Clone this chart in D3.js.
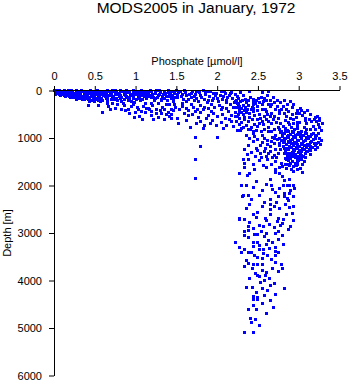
<!DOCTYPE html>
<html>
<head>
<meta charset="utf-8">
<script src="https://cdn.jsdelivr.net/npm/d3@7"></script>
<style>
  body { margin: 0; background: #fff; }
  svg { display: block; }
</style>
</head>
<body>
<svg id="chart" width="350" height="384"></svg>
<script>
// Phosphate [µmol/l] vs depth [m] samples, as [phosphate, depth]
const phosphateTicks = [0, 0.5, 1, 1.5, 2, 2.5, 3, 3.5];
const depthTicks = [0, 1000, 2000, 3000, 4000, 5000, 6000];

// Mixed layer, low phosphate
const surfaceLayer = [
  [0.01,10],[0.02,40],[0.03,70],[0.02,90],[0.05,20],[0.06,55],[0.07,85],[0.08,110],
  [0.10,15],[0.11,45],[0.12,75],[0.13,105],[0.14,125],[0.16,20],[0.17,50],[0.18,90],
  [0.19,120],[0.20,140],[0.22,10],[0.23,40],[0.24,70],[0.25,100],[0.26,135],[0.27,155],
  [0.29,25],[0.30,60],[0.31,90],[0.32,120],[0.33,150],[0.34,175],[0.36,15],[0.37,45],
  [0.38,80],[0.39,110],[0.40,140],[0.41,170],[0.42,195],[0.44,20],[0.45,55],[0.46,90],
  [0.47,125],[0.48,160],[0.49,200],[0.50,225],[0.52,30],[0.53,70],[0.54,105],[0.55,140],
  [0.56,180],[0.35,195],[0.28,180],[0.43,230],[0.04,5],[0.09,60],[0.15,80],[0.21,105],
  [0.33,30],[0.41,85],[0.51,190],[0.57,240],
  [0.03,25],[0.04,55],[0.06,35],[0.07,5],[0.09,30],[0.10,90],[0.12,40],[0.13,8],
  [0.14,65],[0.15,110],[0.17,30],[0.18,5],[0.19,70],[0.20,100],[0.21,45],[0.22,125],
  [0.23,20],[0.24,150],[0.25,60],[0.26,85],[0.27,5],[0.28,115],[0.29,140],[0.30,35],
  [0.31,165],[0.32,75],[0.33,100],[0.34,5],[0.35,130],[0.36,155],[0.37,65],[0.38,180],
  [0.39,30],[0.40,95],[0.41,120],[0.42,50],[0.43,155],[0.44,185],[0.45,10],[0.46,70],
  [0.47,205],[0.48,105],[0.49,40],[0.50,140],[0.51,80],[0.52,170],[0.53,10],[0.54,215],
  [0.55,50],[0.56,120],[0.57,90],[0.58,160],[0.59,200],[0.60,30]
];

// Upper ocean, 0 - 800 m
const upperLayer = [
  [0.58,15],[0.60,50],[0.62,90],[0.63,130],[0.64,175],[0.66,215],[0.68,30],[0.70,70],
  [0.71,110],[0.73,150],[0.74,195],[0.76,10],[0.77,45],[0.79,85],[0.80,125],[0.82,170],
  [0.83,240],[0.85,20],[0.86,60],[0.88,100],[0.90,140],[0.91,200],[0.93,35],[0.95,75],
  [0.96,115],[0.98,165],[0.99,260],[1.01,15],[1.02,55],[1.04,95],[1.05,140],[1.06,210],
  [1.08,40],[1.10,80],[1.11,130],[1.12,280],[0.65,5],[0.72,5],[0.81,5],[0.89,5],
  [0.97,10],[1.07,5],[1.18,5],[1.29,10],[1.40,5],[1.47,20],
  [0.61,110],[0.62,20],[0.64,60],[0.65,145],[0.67,95],[0.69,50],[0.70,180],[0.72,130],
  [0.74,30],[0.75,90],[0.77,160],[0.78,220],[0.80,55],[0.81,100],[0.83,140],[0.84,30],
  [0.86,190],[0.87,80],[0.89,120],[0.90,45],[0.92,165],[0.94,100],[0.95,230],[0.97,50],
  [0.98,135],[1.00,90],[1.01,190],[1.03,30],[1.04,160],[1.06,65],[1.07,110],[1.09,180],
  [1.10,20],[1.12,60],[1.13,160],[1.15,100],[1.17,30],[1.19,140],[1.21,80],[1.23,200],
  [1.25,40],[1.27,140],[1.29,80],[1.31,20],[1.33,120],[1.35,160],[1.37,55],[1.39,200],
  [1.41,130],[1.43,70],[1.45,110],[1.47,230],[1.49,140],[1.51,80],
  [0.60,460],[0.69,410],[0.65,270],[0.54,320],[0.42,320],[0.75,370],[0.83,390],[0.87,320],
  [0.91,410],[0.93,480],[0.99,560],[1.05,550],[1.07,440],[1.03,390],[1.14,370],[1.09,610],
  [1.17,400],[1.26,480],[1.32,490],[1.38,510],[1.44,590],[0.78,300],[0.95,330],
  [0.72,280],[0.85,270],[0.98,300],[1.10,330],[1.21,310],[1.33,350],[1.42,300],[1.49,360],
  [0.88,430],[1.00,470],[1.12,470],[1.20,440],[1.30,420],[1.40,460],[1.47,430],[1.19,530],
  [1.28,560],[1.35,600],[1.02,360],[0.67,330],[1.22,620],[1.41,550],
  [1.14,20],[1.16,60],[1.18,100],[1.20,30],[1.22,140],[1.24,70],[1.26,10],[1.28,110],
  [1.30,45],[1.32,180],[1.34,80],[1.36,15],[1.38,130],[1.40,50],[1.42,95],[1.44,25],
  [1.46,165],[1.48,60],[1.50,10],
  [1.16,130],[1.24,165],[1.32,220],[1.44,165],[1.52,150],[1.65,180],[1.75,165],[1.89,200],
  [2.01,165],[2.12,200],[2.24,200],[1.20,270],[1.28,270],[1.38,300],[1.48,290],[1.58,270],
  [1.69,300],[1.79,320],[1.93,290],[2.03,320],[2.16,300],[2.28,340],[1.16,370],[1.26,410],
  [1.36,410],[1.44,390],[1.54,410],[1.65,430],[1.73,440],[1.83,410],[1.93,440],[2.05,410],
  [2.14,440],[2.22,460],[1.44,510],[1.52,590],[1.65,530],[1.77,570],[1.87,590],[2.00,550],
  [2.10,590],[2.18,660],[2.28,590],[1.75,690],[1.85,730],[1.99,740],[2.12,730],[2.20,760],
  [2.30,800],[1.67,780],[1.83,800],
  [1.55,30],[1.60,5],[1.69,60],[1.75,20],[1.83,10],[1.86,40],[1.89,15],[1.95,70],
  [2.05,30],[2.10,60],[2.18,45],[2.32,95],[2.25,120],[1.62,110],[1.58,90],[1.72,120],
  [1.80,100],[1.98,110],[2.08,130],[2.15,100],[2.40,20],[2.55,40],[2.63,25],
  [1.53,50],[1.56,120],[1.59,190],[1.61,40],[1.63,230],[1.66,80],[1.68,150],[1.70,25],
  [1.72,200],[1.74,90],[1.77,240],[1.78,50],[1.81,140],[1.84,190],[1.86,90],[1.88,250],
  [1.91,130],[1.92,30],[1.94,200],[1.96,160],[1.99,60],[2.02,240],[2.04,100],[2.06,180],
  [2.09,20],[2.11,250],[2.13,150],[2.16,60],[2.19,170],[2.21,260],[2.23,80],[2.26,160],
  [2.29,40],[2.31,220],[1.57,340],[1.62,380],[1.71,360],[1.76,390],[1.85,350],[1.90,370],
  [1.97,360],[2.07,350],[2.12,380],[2.20,350],[1.60,480],[1.70,500],[1.80,470],[1.90,520],
  [1.96,480],[2.07,500],[2.17,520],[2.25,540],[1.63,640],[1.80,650],[1.94,640],[2.05,680],
  [2.15,610],[1.92,700],[2.08,790],[2.25,850],
  [1.53,690],[1.73,980],[2.00,985],[1.79,1170],[1.73,1450],[1.73,1850]
];

// Phosphate maximum, 100 - 1700 m
const coreLayer = [
  [2.32,110],[2.41,140],[2.54,140],[2.61,200],[2.48,200],[2.36,250],[2.26,300],[2.32,320],
  [2.38,320],[2.44,290],[2.56,300],[2.63,290],[2.67,300],[2.86,290],[2.79,390],[2.85,390],
  [2.71,390],[2.59,390],[2.42,410],[2.34,430],[2.28,410],[2.24,360],[2.26,510],[2.32,500],
  [2.40,480],[2.46,530],[2.52,500],[2.67,480],[2.77,480],[2.82,480],[2.97,480],[3.01,480],
  [2.90,590],[3.08,590],[3.20,570],[3.26,590],[2.75,590],[2.69,620],[2.63,660],[2.56,660],
  [2.50,620],[2.38,660],[2.30,670],[2.24,660],[2.32,780],[2.42,780],[2.50,760],[2.63,780],
  [2.75,780],[2.81,760],[2.89,710],[3.01,670],[3.10,690],[3.18,760],[3.26,780],[3.16,660],
  [2.95,830],[3.03,870],[2.87,870],[2.79,870],[2.67,870],[2.54,870],[2.44,870],[2.38,830],
  [2.22,230],[2.25,270],[2.29,230],[2.30,380],[2.35,350],[2.27,450],[2.36,470],[2.43,360],
  [2.45,450],[2.33,560],[2.40,560],[2.49,430],[2.53,580],[2.58,540],[2.61,450],[2.70,540],
  [2.73,680],[2.84,640],[2.93,620],[2.97,560],[3.05,520],[3.13,610],[3.22,650],[3.24,710],
  [2.91,770],[2.98,740],[3.07,770],[3.14,820],[2.57,720],[2.46,720],[2.36,740],[2.28,720],
  [2.85,540],[2.65,550],[2.55,410],[2.50,330],[2.45,240],[2.39,200],[2.57,240],[2.70,250],
  [2.81,340],[2.92,360],[2.62,100],[2.69,150],[2.83,200],[2.90,230],[3.02,380],[3.11,420],
  [3.03,430],
  [2.35,180],[2.44,190],[2.51,170],[2.58,160],[2.66,210],[2.74,200],[2.78,260],[2.93,300],
  [2.98,420],[3.07,470],[3.15,500],[3.23,540],[3.19,620],[3.08,640],[2.99,680],[2.94,700],
  [2.87,670],[2.78,700],[2.67,700],[2.60,620],[2.52,690],[2.43,610],[2.34,620],[2.27,580],
  [2.22,540],[2.29,850],[2.41,820],[2.48,840],[2.58,820],[2.70,820],[2.76,830],[2.84,810],
  [2.99,790],[3.10,830],[3.20,830],[3.28,850],[2.47,280],[2.52,250],[2.65,340],[2.74,340],
  [2.88,440],[2.92,510],[2.76,430],[2.62,500],[2.45,380],[2.37,410],[2.30,460],[3.25,640],
  [3.29,700],
  [2.78,880],[2.82,905],[2.86,850],[2.90,925],[2.94,880],[2.98,935],[3.02,900],[3.06,955],
  [3.10,910],[3.14,965],[3.18,900],[3.22,945],[2.80,960],[2.84,1005],[2.88,980],[2.92,1025],
  [2.96,990],[3.00,1045],[3.04,1000],[3.08,1055],[3.12,1020],[3.16,1065],[3.20,1010],[3.24,1085],
  [2.79,1060],[2.83,1105],[2.87,1070],[2.91,1125],[2.95,1090],[2.99,1145],[3.03,1110],[3.07,1165],
  [3.11,1130],[3.15,1185],[3.19,1120],[2.81,1170],[2.85,1215],[2.89,1180],[2.93,1235],[2.97,1200],
  [3.01,1255],[3.05,1220],[3.09,1275],[3.13,1240],[2.84,1290],[2.88,1325],[2.92,1300],[2.96,1355],
  [3.00,1310],[3.04,1375],[3.08,1330],[2.86,1400],[2.90,1435],[2.94,1390],[2.98,1445],[3.02,1410],
  [2.92,1500],[2.96,1535],[3.00,1480],[2.88,1560],[2.93,1610],[2.97,1580],[3.05,1560],[3.02,1640],
  [2.94,1700],[2.85,1650],[2.80,1590],[2.76,1000],[2.72,940],[2.70,1120],[3.26,1000],[3.27,1140],
  [3.23,1200],[3.28,1060],
  [2.80,920],[2.84,870],[2.88,940],[2.92,870],[2.96,950],[3.00,880],[3.04,940],[3.08,890],
  [3.12,960],[3.16,920],[3.20,960],[3.24,900],[2.82,1030],[2.86,960],[2.90,1050],[2.94,970],
  [2.98,1060],[3.02,975],[3.06,1080],[3.10,990],[3.14,1100],[3.18,1040],[3.22,1110],[2.77,1120],
  [2.81,1090],[2.85,1140],[2.89,1100],[2.93,1160],[2.97,1110],[3.01,1180],[3.05,1140],[3.09,1200],
  [3.13,1160],[3.17,1200],[3.21,1160],[2.83,1230],[2.87,1250],[2.91,1200],[2.95,1270],[2.99,1230],
  [3.03,1280],[3.07,1250],[3.11,1290],[3.15,1260],[2.82,1330],[2.86,1350],[2.90,1370],[2.94,1330],
  [2.98,1380],[3.02,1340],[3.06,1390],[2.84,1440],[2.88,1470],[2.96,1420],[3.00,1430],[3.04,1460],
  [2.90,1530],[2.98,1550],[3.07,1500],[2.84,1560],[2.91,1660],
  [2.36,940],[2.44,900],[2.46,970],[2.63,870],[2.67,1080],[2.74,1040],[2.76,1150],[2.48,1220],
  [2.59,1220],[2.53,1150],[2.39,1150],[2.34,1250],[2.50,1270],[2.78,1250],[2.89,1330],[3.08,1420],
  [3.14,1350],[3.20,1250],[2.63,1320],[2.71,1490],[2.79,1530],[2.89,1570],[2.85,1460],[2.99,1490],
  [2.54,1420],[2.57,1570],[2.34,1530],[2.39,1450],[2.32,1450],
  [2.58,1000],[2.62,1060],[2.68,980],[2.56,1100],[2.65,1180],[2.72,1240],[2.60,1380],[2.70,1360],
  [2.66,1280],[2.53,1330],
  [2.40,1000],[2.50,1030],[2.45,1080],[2.55,950],[2.70,1020],[2.62,1140],[2.42,1300],[2.58,1280],
  [2.68,1420],[2.47,1380],[2.37,1350],[2.62,1460],[2.75,1330],[2.73,1400],[2.52,1480],[2.44,1560],
  [2.60,1620],[2.67,1560],[2.76,1620],[2.71,1670],[2.46,1660],[2.33,1620]
];

// Deep water, below 1700 m
const deepLayer = [
  [2.27,1740],[2.40,1740],[2.37,1780],[2.36,1990],[2.48,1920],[2.65,1880],[2.67,1990],[2.68,2090],
  [2.76,2060],[2.81,2010],[2.86,1990],[2.89,2010],[2.72,1730],[2.77,1740],[2.80,1810],[2.82,1900],
  [2.89,1880],[2.93,1990],[2.98,1670],[3.05,1730],[2.83,2160],[2.89,2160],[2.75,2230],[2.32,2220],
  [2.39,2220],[2.52,2200],[2.65,2290],[2.31,2230],[2.82,2230],[2.86,2270],[2.93,2230],[2.28,2700],
  [2.87,2320],[2.73,2360],[2.65,2390],[2.40,2390],[2.56,2440],[2.66,2500],[2.77,2480],[2.89,2460],
  [2.36,2480],[2.49,2570],[2.59,2690],[2.48,2670],[2.27,2710],[2.33,2710],[2.75,2690],[2.81,2710],
  [2.74,2760],[2.80,2790],[2.93,2740],[2.92,2580],[2.61,2740],[2.52,2850],[2.57,2870],[2.38,2870],
  [2.70,2890],[2.87,2930],[2.33,2960],[2.39,2950],[2.54,2960],[2.61,3000],[2.71,3000],[2.75,2960],
  [2.46,3030],[2.50,3030],[2.39,3100],[2.22,3190],[2.44,3190],[2.49,3190],[2.63,3160],[2.68,3190],
  [2.75,3130],[2.81,3250],[2.52,3270],[2.64,3320],[2.52,3350],[2.33,3350],[2.30,3420],[2.39,3410],
  [2.42,3410],[2.57,3350],[2.57,3440],[2.71,3390],[2.75,3420],[2.72,3480],[2.49,3510],[2.55,3530],
  [2.36,3580],[2.39,3650],[2.44,3670],[2.49,3670],[2.55,3670],[2.71,3620],[2.79,3670],[2.80,3740],
  [2.43,3750],[2.55,3790],[2.61,3830],[2.47,3850],[2.49,3900],[2.52,3920],[2.59,3900],[2.64,3950],
  [2.58,4010],[2.36,4140],[2.43,4140],[2.55,4160],[2.65,4110],[2.70,4070],[2.82,4160],[2.44,4340],
  [2.49,4350],[2.44,4400],[2.50,4390],[2.58,4310],[2.66,4430],[2.69,4560],[2.39,4610],[2.48,4610],
  [2.41,4800],[2.47,4820],[2.42,4890],[2.34,5100],[2.44,5090],
  [2.30,2000],[2.45,2050],[2.55,2100],[2.60,1980],[2.72,2140],[2.90,2100],[2.95,2060],[2.42,2300],
  [2.58,2350],[2.70,2450],[2.84,2400],[2.94,2450],[2.45,2600],[2.66,2620],[2.85,2600],[2.40,2780],
  [2.64,2820],[2.78,2850],[2.90,2860],[2.45,2900],[2.58,3080],[2.80,3050],[2.34,3060],[2.60,3250],
  [2.72,3300],[2.44,3280],[2.28,3300],[2.67,3550],[2.62,3480],[2.46,3470],[2.34,3700],[2.68,3750],
  [2.75,3800],[2.40,3950],[2.53,4050],[2.62,4200],[2.48,4250],[2.72,4300],[2.55,4480],[2.45,4520],
  [2.60,4700],[2.52,4950]
];

const samples = [...surfaceLayer, ...upperLayer, ...coreLayer, ...deepLayer];

const svg = d3.select('#chart');
const font = '"Liberation Sans", Arial, Helvetica, sans-serif';

const x = d3.scaleLinear().domain([0, 3.5]).range([54, 339.5]);
const y = d3.scaleLinear().domain([0, 6000]).range([90.5, 375.5]);

// Points
svg.append('g')
  .attr('shape-rendering', 'crispEdges')
  .selectAll('rect')
  .data(samples)
  .join('rect')
  .attr('x', d => Math.round(x(d[0]) - 1.5))
  .attr('y', d => Math.round(y(d[1]) - 1.5))
  .attr('width', 3)
  .attr('height', 3)
  .attr('fill', '#0000ff');

// Top axis: phosphate
const xAxis = svg.append('g')
  .attr('transform', 'translate(0,90)')
  .call(d3.axisTop(x)
    .tickValues(phosphateTicks)
    .tickFormat(d3.format(''))
    .tickSize(4)
    .tickPadding(6)
    .tickSizeOuter(0));

// Left axis: depth
const yAxis = svg.append('g')
  .attr('transform', 'translate(54,0)')
  .call(d3.axisLeft(y)
    .tickValues(depthTicks)
    .tickFormat(d3.format('d'))
    .tickSize(5)
    .tickPadding(7)
    .tickSizeOuter(0));

[xAxis, yAxis].forEach(g => {
  g.attr('font-family', font).attr('font-size', 11);
  g.selectAll('path, line').attr('stroke', '#000');
  g.selectAll('text').attr('fill', '#000');
});

// Titles
svg.append('text')
  .attr('x', 196).attr('y', 13)
  .attr('text-anchor', 'middle')
  .attr('font-family', font).attr('font-size', 15.5)
  .text('MODS2005 in January, 1972');

svg.append('text')
  .attr('x', 197).attr('y', 65)
  .attr('text-anchor', 'middle')
  .attr('font-family', font).attr('font-size', 11)
  .text('Phosphate [µmol/l]');

svg.append('text')
  .attr('transform', 'translate(11,233) rotate(-90)')
  .attr('text-anchor', 'middle')
  .attr('font-family', font).attr('font-size', 11)
  .text('Depth [m]');
</script>
</body>
</html>
